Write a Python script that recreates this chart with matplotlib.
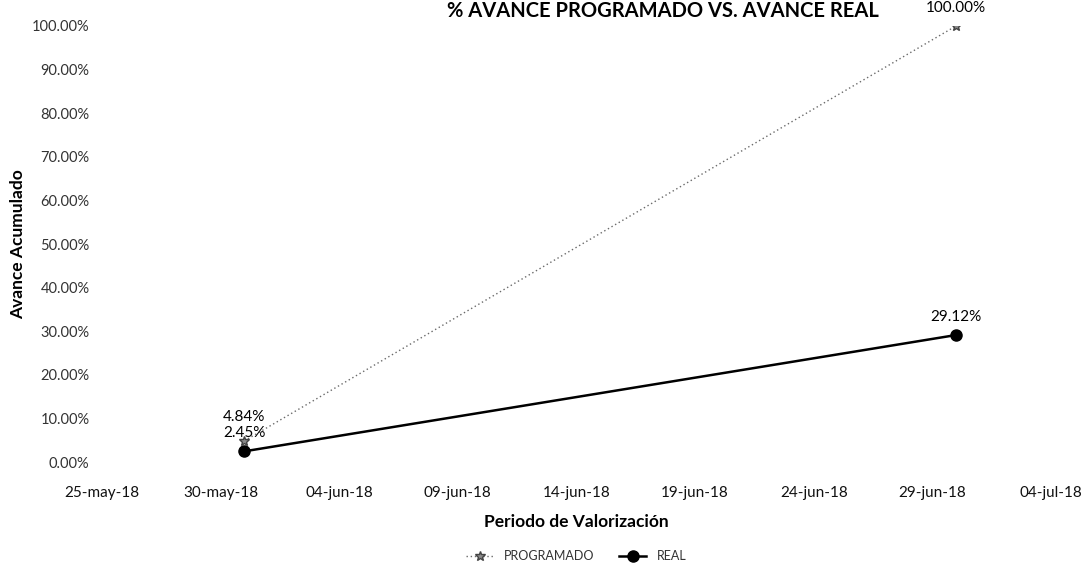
import datetime as dt
import matplotlib
matplotlib.use("Agg")
import matplotlib.pyplot as plt
import matplotlib.dates as mdates
from matplotlib.ticker import FuncFormatter, PercentFormatter

plt.rcParams['font.family'] = ['Lato', 'DejaVu Sans']

# Fechas de valorización y avance acumulado
fechas = [dt.date(2018, 5, 31), dt.date(2018, 6, 30)]
programado = [0.0484, 1.0]
real = [0.0245, 0.2912]

eje_inicio = dt.date(2018, 5, 25)
eje_fin = dt.date(2018, 7, 4)

meses = ['ene', 'feb', 'mar', 'abr', 'may', 'jun',
         'jul', 'ago', 'sep', 'oct', 'nov', 'dic']


def fecha_es(x, pos):
    d = mdates.num2date(x)
    return f"{d.day:02d}-{meses[d.month - 1]}-{d.strftime('%y')}"


fig = plt.figure(figsize=(10.87, 5.75), dpi=100)
ax = fig.add_axes([0.0938, 0.1965, 0.873, 0.7583])

l_prog, = ax.plot(fechas, programado, color='#6a6a6a', linewidth=1.0,
                  linestyle=(0, (1, 2)), marker='*', markersize=7,
                  markerfacecolor='#8a8a8a', markeredgecolor='#444444',
                  label='PROGRAMADO')
l_real, = ax.plot(fechas, real, color='black', linewidth=1.8,
                  marker='o', markersize=8, label='REAL')

# Etiquetas de datos sobre cada punto
for f, v in zip(fechas, programado):
    ax.annotate(f"{v:.2%}", (mdates.date2num(f), v), xytext=(0, 17 if v < 0.5 else 13),
                textcoords='offset points', ha='center', va='center',
                fontsize=11, color='black')
for f, v in zip(fechas, real):
    ax.annotate(f"{v:.2%}", (mdates.date2num(f), v), xytext=(0, 13),
                textcoords='offset points', ha='center', va='center',
                fontsize=11, color='black')

ax.set_xlim(mdates.date2num(eje_inicio), mdates.date2num(eje_fin))
ax.set_ylim(0, 1)
ax.set_xticks([mdates.date2num(eje_inicio + dt.timedelta(days=5 * i)) for i in range(9)])
ax.xaxis.set_major_formatter(FuncFormatter(fecha_es))
ax.set_yticks([i / 10 for i in range(11)])
ax.yaxis.set_major_formatter(PercentFormatter(1.0, decimals=2))

ax.tick_params(axis='x', length=0, pad=17, labelsize=11, labelcolor='#111111')
ax.tick_params(axis='y', length=0, pad=9, labelsize=10.5, labelcolor='#333333')
for s in ax.spines.values():
    s.set_visible(False)

ax.set_xlabel('Periodo de Valorización', fontsize=12.5, fontweight='bold', labelpad=10)
ax.set_ylabel('Avance Acumulado', fontsize=12.5, fontweight='bold', labelpad=4)

fig.text(0.61, 0.999, '% AVANCE PROGRAMADO VS. AVANCE REAL', ha='center',
         va='top', fontsize=14.5, fontweight='bold')

fig.legend(handles=[l_prog, l_real], loc='center', bbox_to_anchor=(0.53, 0.033),
           ncol=2, frameon=False, fontsize=9, handlelength=2.2, columnspacing=2,
           labelcolor='#333333')

fig.savefig('out.png', dpi=100)
